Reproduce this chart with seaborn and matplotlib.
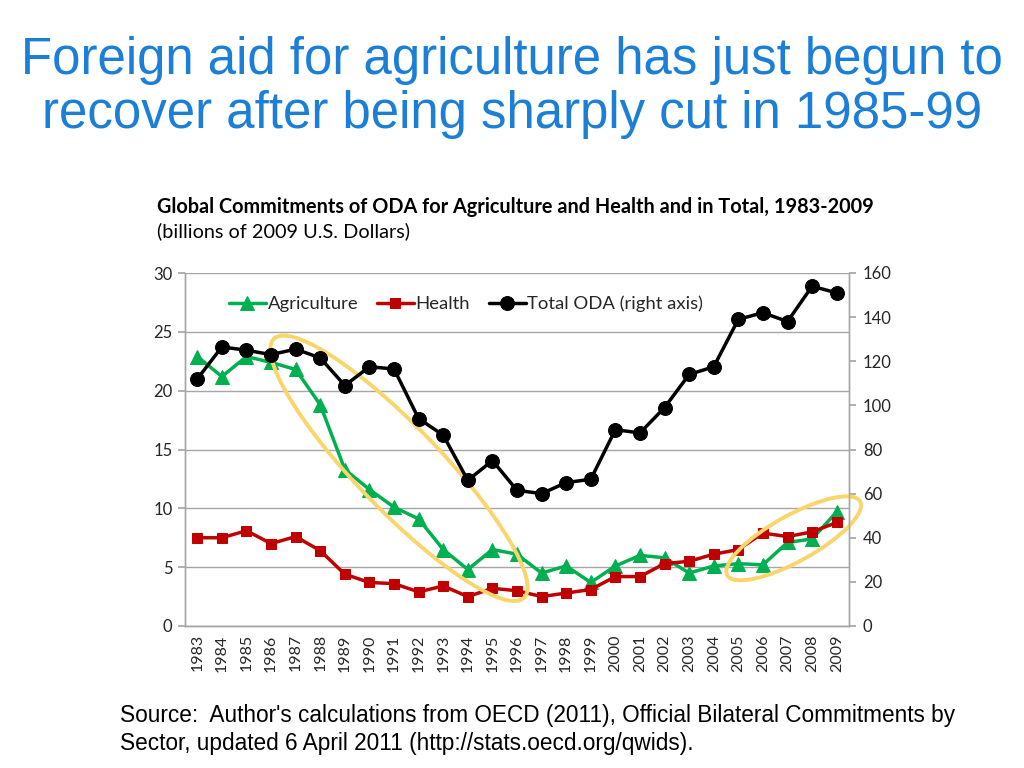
import matplotlib
matplotlib.use("Agg")
import matplotlib.pyplot as plt
import seaborn as sns
from matplotlib.patches import Ellipse
from matplotlib.transforms import ScaledTranslation

# data
years = list(range(1983, 2010))
agriculture = [22.9, 21.2, 22.9, 22.4, 21.8, 18.8, 13.3, 11.6, 10.1, 9.1, 6.5, 4.8, 6.5, 6.1,
               4.5, 5.1, 3.7, 5.1, 6.0, 5.8, 4.5, 5.1, 5.3, 5.2, 7.1, 7.4, 9.7]
health = [7.5, 7.5, 8.1, 7.0, 7.6, 6.4, 4.4, 3.7, 3.6, 2.9, 3.4, 2.5, 3.2, 3.0,
          2.5, 2.8, 3.1, 4.2, 4.2, 5.3, 5.5, 6.1, 6.5, 7.9, 7.6, 8.0, 8.8]
total_oda = [112, 126.5, 125, 123, 125.5, 121.5, 109, 117.5, 116.5, 94, 86.5, 66, 75, 61.5,
             60, 65, 66.5, 89, 87.5, 99, 114, 117.5, 139, 142, 138, 154, 151]
left_ticks = [0, 5, 10, 15, 20, 25, 30]
right_ticks = [0, 20, 40, 60, 80, 100, 120, 140, 160]

green = "#00B050"
red = "#C00000"
grey = "#A6A6A6"
yellow = "#F9D56A"

sns.set_theme(style="white")
plt.rcParams["font.family"] = ["Lato", "DejaVu Sans"]

fig = plt.figure(figsize=(10.24, 7.68), dpi=100)
ax = fig.add_axes([185 / 1024, 1 - 626 / 768, 664 / 1024, 353 / 768])
ax2 = ax.twinx()

sns.lineplot(x=years, y=agriculture, ax=ax, color=green, marker="^", markersize=10,
             markeredgecolor=green, linewidth=2.5, label="Agriculture")
sns.lineplot(x=years, y=health, ax=ax, color=red, marker="s", markersize=7,
             markeredgecolor=red, linewidth=2.5, label="Health")
sns.lineplot(x=years, y=total_oda, ax=ax2, color="black", marker="o", markersize=10,
             markeredgecolor="black", linewidth=2.5, label="Total ODA (right axis)", zorder=4)

# axes styling
ax.set_xlim(1982.5, 2009.5)
ax.set_ylim(0, 30)
ax2.set_ylim(0, 160)
ax.set_yticks(left_ticks)
ax2.set_yticks(right_ticks)
ax.set_xticks(years)
ax.set_xticklabels([str(y) for y in years], rotation=90)
ax.set_xticks([y + 0.5 for y in [1982] + years], minor=True)
ax.tick_params(axis="x", which="major", length=0, pad=6, labelsize=11.5, labelcolor="#262626")
ax.tick_params(axis="x", which="minor", length=6, color=grey, width=1, direction="out")
ax.tick_params(axis="y", length=5, color=grey, labelsize=12, labelcolor="#262626", pad=4)
ax2.tick_params(axis="y", length=5, color=grey, labelsize=12, labelcolor="#262626", pad=5)
ax.grid(axis="y", color=grey, linewidth=1)
for a in (ax, ax2):
    a.set_xlabel("")
    a.set_ylabel("")
    a.spines["top"].set_visible(False)
    for s in ("left", "right", "bottom"):
        a.spines[s].set_color(grey)
        a.spines[s].set_linewidth(1)

# legend
h1, l1 = ax.get_legend_handles_labels()
h2, l2 = ax2.get_legend_handles_labels()
ax.get_legend().remove()
ax2.legend(h1 + h2, l1 + l2, loc="center left", bbox_to_anchor=(0.055, 0.912), ncol=3,
           frameon=False, fontsize=13.3, handlelength=2.0, handletextpad=0.1,
           columnspacing=1.0, borderaxespad=0)

# yellow highlight ellipses (sizes in inches, centres in left-axis data units)
for cx, cy, w, h, ang in [(1991.2, 13.4, 3.6, 0.84, -46), (2007.25, 7.45, 1.52, 0.46, 29)]:
    tr = fig.dpi_scale_trans + ScaledTranslation(cx, cy, ax.transData)
    ax2.add_patch(Ellipse((0, 0), w, h, angle=ang, transform=tr, fill=False,
                          edgecolor=yellow, linewidth=2.8, zorder=2, clip_on=False))

# texts
title_kw = dict(ha="center", va="baseline", fontsize=36.7, color="#1B7FD8", family="Liberation Sans")
fig.text(0.5, 1 - 74 / 768, "Foreign aid for agriculture has just begun to", **title_kw)
fig.text(0.5, 1 - 128 / 768, "recover after being sharply cut in 1985-99", **title_kw)
fig.text(157 / 1024, 1 - 213 / 768, "Global Commitments of ODA for Agriculture and Health and in Total, 1983-2009",
         ha="left", va="baseline", fontsize=14.3, fontweight="bold", color="black")
fig.text(157 / 1024, 1 - 237 / 768, "(billions of 2009 U.S. Dollars)",
         ha="left", va="baseline", fontsize=14.3, color="black")
src_kw = dict(ha="left", va="baseline", fontsize=16.3, color="black", family="Liberation Sans")
fig.text(120 / 1024, 1 - 722 / 768,
         "Source:  Author's calculations from OECD (2011), Official Bilateral Commitments by", **src_kw)
fig.text(120 / 1024, 1 - 750 / 768,
         "Sector, updated 6 April 2011 (http://stats.oecd.org/qwids).", **src_kw)

fig.savefig("out.png", dpi=100)
